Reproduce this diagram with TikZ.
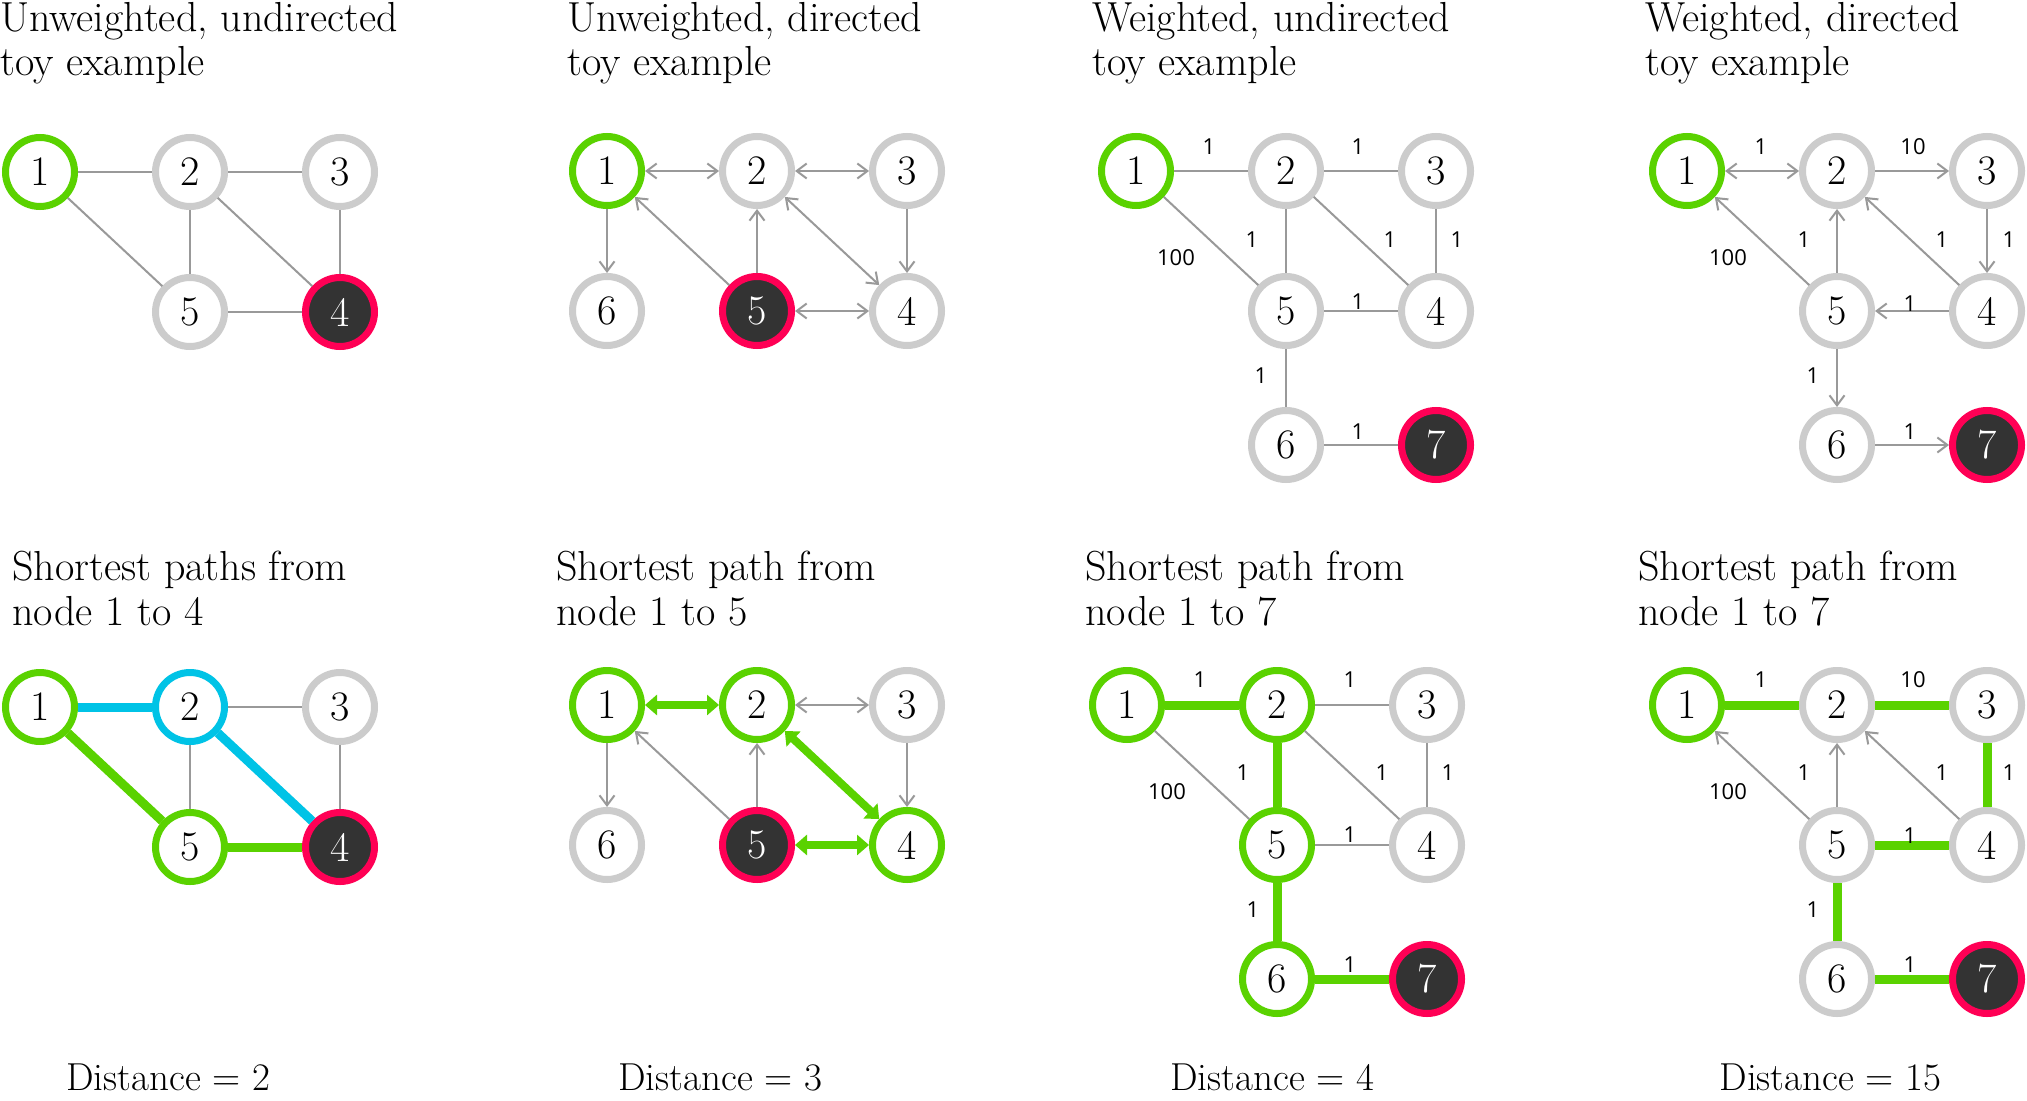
\documentclass[tikz,border=0pt]{standalone}
\usepackage{fontspec}
\newfontfamily\wfont{Open Sans}
\usetikzlibrary{arrows.meta}
\definecolor{pgreen}{HTML}{5AD200}
\definecolor{pred}{HTML}{FF0055}
\definecolor{pcyan}{HTML}{00C3E6}
\definecolor{ringgray}{HTML}{CCCCCC}
\definecolor{egray}{HTML}{999999}
\definecolor{darkfill}{HTML}{333333}
\begin{document}
\begin{tikzpicture}[x=0.5pt,y=-0.5pt,
  nd/.style={circle, draw=ringgray, line width=3.5pt, minimum size=34.5pt, inner sep=0pt, fill=white, font=\fontsize{21}{21}\selectfont},
  src/.style={nd, draw=pgreen},
  tgt/.style={nd, draw=pred, fill=darkfill, text=white},
  cyn/.style={nd, draw=pcyan},
  edg/.style={draw=egray, line width=1pt},
  darr/.style={edg, -{Straight Barb[length=5pt,width=7.5pt]}},
  barr/.style={edg, {Straight Barb[length=5pt,width=7.5pt]}-{Straight Barb[length=5pt,width=7.5pt]}},
  gpath/.style={draw=pgreen, line width=4.5pt},
  cpath/.style={draw=pcyan, line width=4.5pt},
  garr/.style={draw=pgreen, line width=4pt, {Triangle[length=6pt,width=10pt]}-{Triangle[length=6pt,width=10pt]}},
  wl/.style={font=\wfont\fontsize{11}{11}\selectfont, inner sep=0pt},
  ttl/.style={anchor=base west, inner sep=0pt, font=\fontsize{21}{22}\selectfont},
  dst/.style={anchor=base west, inner sep=0pt, font=\fontsize{19.5}{22}\selectfont},
]
\fill[white] (0,0) rectangle (2027,1101);
\useasboundingbox (0,0) rectangle (2027,1101);

% ---------- titles ----------
\node[ttl] (tA1) at (0,32) {Unweighted, undirected};
\node[ttl] (tA2) at (0,76) {toy example};
\node[ttl] (tB1) at (567,32) {Unweighted, directed};
\node[ttl] (tB2) at (567,76) {toy example};
\node[ttl] (tC1) at (1092,32) {Weighted, undirected};
\node[ttl] (tC2) at (1092,76) {toy example};
\node[ttl] (tD1) at (1645,32) {Weighted, directed};
\node[ttl] (tD2) at (1645,76) {toy example};
\node[ttl] (tE1) at (12,580) {Shortest paths from};
\node[ttl] (tE2) at (12,625) {node 1 to 4};
\node[ttl] (tF1) at (556,580) {Shortest path from};
\node[ttl] (tF2) at (556,625) {node 1 to 5};
\node[ttl] (tG1) at (1085,580) {Shortest path from};
\node[ttl] (tG2) at (1085,625) {node 1 to 7};
\node[ttl] (tH1) at (1638,580) {Shortest path from};
\node[ttl] (tH2) at (1638,625) {node 1 to 7};
\node[dst] (dE) at (66,1090) {Distance = 2};
\node[dst] (dF) at (618,1090) {Distance = 3};
\node[dst] (dG) at (1170,1090) {Distance = 4};
\node[dst] (dH) at (1719,1090) {Distance = 15};

% ---------- panel A ----------
\begin{scope}[shift={(40,172)}]
\node[src] (a1) at (0,0) {1};
\node[nd] (a2) at (150,0) {2};
\node[nd] (a3) at (300,0) {3};
\node[nd] (a5) at (150,140) {5};
\node[tgt] (a4) at (300,140) {4};
\draw[edg] (a1) -- (a2);
\draw[edg] (a2) -- (a3);
\draw[edg] (a1) -- (a5);
\draw[edg] (a2) -- (a5);
\draw[edg] (a2) -- (a4);
\draw[edg] (a3) -- (a4);
\draw[edg] (a5) -- (a4);
\end{scope}

% ---------- panel B ----------
\begin{scope}[shift={(607,171)}]
\node[src] (b1) at (0,0) {1};
\node[nd] (b2) at (150,0) {2};
\node[nd] (b3) at (300,0) {3};
\node[nd] (b6) at (0,140) {6};
\node[tgt] (b5) at (150,140) {5};
\node[nd] (b4) at (300,140) {4};
\draw[barr] (b1) -- (b2);
\draw[barr] (b2) -- (b3);
\draw[darr] (b3) -- (b4);
\draw[darr] (b5) -- (b2);
\draw[darr] (b5) -- (b1);
\draw[darr] (b1) -- (b6);
\draw[barr] (b2) -- (b4);
\draw[barr] (b5) -- (b4);
\end{scope}

% ---------- panel C ----------
\begin{scope}[shift={(1136,171)}]
\node[src] (c1) at (0,0) {1};
\node[nd] (c2) at (150,0) {2};
\node[nd] (c3) at (300,0) {3};
\node[nd] (c5) at (150,140) {5};
\node[nd] (c4) at (300,140) {4};
\node[nd] (c6) at (150,274) {6};
\node[tgt] (c7) at (300,274) {7};
\draw[edg] (c1) -- (c2);
\draw[edg] (c2) -- (c3);
\draw[edg] (c1) -- (c5);
\draw[edg] (c2) -- (c5);
\draw[edg] (c2) -- (c4);
\draw[edg] (c3) -- (c4);
\draw[edg] (c5) -- (c4);
\draw[edg] (c5) -- (c6);
\draw[edg] (c6) -- (c7);
\node[wl] (cw12) at (73,-24) {1};
\node[wl] (cw23) at (222,-24) {1};
\node[wl] (cw25) at (116,69) {1};
\node[wl] (cw15) at (40,87) {100};
\node[wl] (cw24) at (254,69) {1};
\node[wl] (cw34) at (321,69) {1};
\node[wl] (cw54) at (222,131) {1};
\node[wl] (cw56) at (125,205) {1};
\node[wl] (cw67) at (222,261) {1};
\end{scope}

% ---------- panel D ----------
\begin{scope}[shift={(1687,171)}]
\node[src] (d1) at (0,0) {1};
\node[nd] (d2) at (150,0) {2};
\node[nd] (d3) at (300,0) {3};
\node[nd] (d5) at (150,140) {5};
\node[nd] (d4) at (300,140) {4};
\node[nd] (d6) at (150,274) {6};
\node[tgt] (d7) at (300,274) {7};
\draw[barr] (d1) -- (d2);
\draw[darr] (d2) -- (d3);
\draw[darr] (d3) -- (d4);
\draw[darr] (d4) -- (d5);
\draw[darr] (d4) -- (d2);
\draw[darr] (d5) -- (d2);
\draw[darr] (d5) -- (d1);
\draw[darr] (d5) -- (d6);
\draw[darr] (d6) -- (d7);
\node[wl] (dw12) at (74,-24) {1};
\node[wl] (dw23) at (226,-24) {10};
\node[wl] (dw25) at (117,69) {1};
\node[wl] (dw15) at (41,87) {100};
\node[wl] (dw24) at (255,69) {1};
\node[wl] (dw34) at (322,69) {1};
\node[wl] (dw54) at (223,133) {1};
\node[wl] (dw56) at (126,205) {1};
\node[wl] (dw67) at (223,261) {1};
\end{scope}

% ---------- panel E ----------
\begin{scope}[shift={(40,707)}]
\node[src] (e1) at (0,0) {1};
\node[cyn] (e2) at (150,0) {2};
\node[nd] (e3) at (300,0) {3};
\node[src] (e5) at (150,140) {5};
\node[tgt] (e4) at (300,140) {4};
\draw[edg] (e2) -- (e3);
\draw[edg] (e2) -- (e5);
\draw[edg] (e3) -- (e4);
\draw[cpath] (e1) -- (e2);
\draw[cpath] (e2) -- (e4);
\draw[gpath] (e1) -- (e5);
\draw[gpath] (e5) -- (e4);
\end{scope}

% ---------- panel F ----------
\begin{scope}[shift={(607,705)}]
\node[src] (f1) at (0,0) {1};
\node[src] (f2) at (150,0) {2};
\node[nd] (f3) at (300,0) {3};
\node[nd] (f6) at (0,140) {6};
\node[tgt] (f5) at (150,140) {5};
\node[src] (f4) at (300,140) {4};
\draw[barr] (f2) -- (f3);
\draw[darr] (f3) -- (f4);
\draw[darr] (f5) -- (f2);
\draw[darr] (f5) -- (f1);
\draw[darr] (f1) -- (f6);
\draw[garr] (f1) -- (f2);
\draw[garr] (f2) -- (f4);
\draw[garr] (f5) -- (f4);
\end{scope}

% ---------- panel G ----------
\begin{scope}[shift={(1127,705)}]
\node[src] (g1) at (0,0) {1};
\node[src] (g2) at (150,0) {2};
\node[nd] (g3) at (300,0) {3};
\node[src] (g5) at (150,140) {5};
\node[nd] (g4) at (300,140) {4};
\node[src] (g6) at (150,274) {6};
\node[tgt] (g7) at (300,274) {7};
\draw[edg] (g2) -- (g3);
\draw[edg] (g3) -- (g4);
\draw[edg] (g2) -- (g4);
\draw[edg] (g5) -- (g4);
\draw[edg] (g1) -- (g5);
\draw[gpath] (g1) -- (g2);
\draw[gpath] (g2) -- (g5);
\draw[gpath] (g5) -- (g6);
\draw[gpath] (g6) -- (g7);
\node[wl] (gw12) at (73,-25) {1};
\node[wl] (gw23) at (223,-25) {1};
\node[wl] (gw25) at (116,68) {1};
\node[wl] (gw15) at (40,87) {100};
\node[wl] (gw24) at (255,68) {1};
\node[wl] (gw34) at (321,68) {1};
\node[wl] (gw54) at (223,130) {1};
\node[wl] (gw56) at (126,205) {1};
\node[wl] (gw67) at (223,260) {1};
\end{scope}

% ---------- panel H ----------
\begin{scope}[shift={(1687,705)}]
\node[src] (h1) at (0,0) {1};
\node[nd] (h2) at (150,0) {2};
\node[nd] (h3) at (300,0) {3};
\node[nd] (h5) at (150,140) {5};
\node[nd] (h4) at (300,140) {4};
\node[nd] (h6) at (150,274) {6};
\node[tgt] (h7) at (300,274) {7};
\draw[darr] (h5) -- (h1);
\draw[darr] (h5) -- (h2);
\draw[darr] (h4) -- (h2);
\draw[gpath] (h1) -- (h2);
\draw[gpath] (h2) -- (h3);
\draw[gpath] (h3) -- (h4);
\draw[gpath] (h4) -- (h5);
\draw[gpath] (h5) -- (h6);
\draw[gpath] (h6) -- (h7);
\node[wl] (hw12) at (74,-25) {1};
\node[wl] (hw23) at (226,-25) {10};
\node[wl] (hw25) at (117,68) {1};
\node[wl] (hw15) at (41,87) {100};
\node[wl] (hw24) at (255,68) {1};
\node[wl] (hw34) at (322,68) {1};
\node[wl] (hw54) at (223,131) {1};
\node[wl] (hw56) at (126,205) {1};
\node[wl] (hw67) at (223,260) {1};
\end{scope}
\end{tikzpicture}
\end{document}
